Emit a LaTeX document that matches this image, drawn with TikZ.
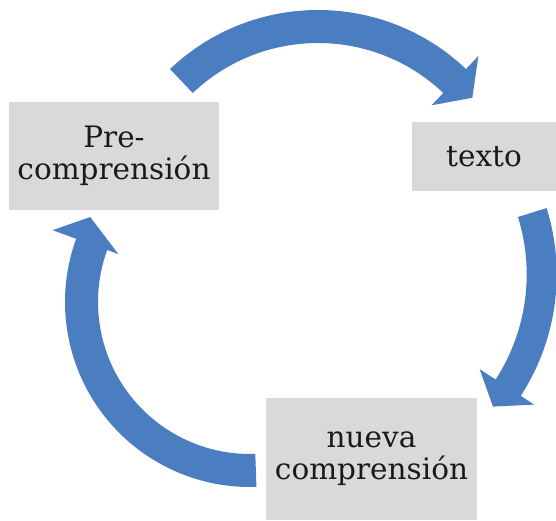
\documentclass[tikz,border=0pt]{standalone}
\usepackage{fontspec}
\setmainfont{DejaVu Serif}
\usetikzlibrary{calc}
\definecolor{arrowblue}{HTML}{4A7EC0}
\definecolor{boxgray}{HTML}{D9D9D9}
\definecolor{txtcol}{HTML}{1A1A1A}
\begin{document}
\begin{tikzpicture}[x=1pt,y=1pt,
  box/.style={fill=boxgray, inner sep=0pt, align=center, text=txtcol,
    font=\fontsize{29.5}{32}\selectfont},
  cyc/.style={fill=arrowblue}]
\useasboundingbox (0,0) rectangle (556,520);
% boxes
\node[box, minimum width=210pt, minimum height=108pt] (pre) at (114,364) {Pre-\\comprensión};
\node[box, minimum width=144pt, minimum height=69pt] (texto) at (484,363.5) {texto};
\node[box, minimum width=211pt, minimum height=122pt] (nueva) at (371.5,61) {nueva\\comprensión};
% arrow centres
\coordinate (c1) at (318,295);
\coordinate (c2) at (333.7,245.6);
\coordinate (c3) at (250,218);
% top arrow: pre -> texto
\fill[cyc] ($(c1)+(133.5:215)$) arc[start angle=133.5, end angle=46.5, radius=215]
  -- ($(c1)+(46.5:233)$) -- ($(c1)+(39.5:200)$) -- ($(c1)+(46.5:165)$)
  -- ($(c1)+(46.5:182)$) arc[start angle=46.5, end angle=133.5, radius=182] -- cycle;
% right arrow: texto -> nueva
\fill[cyc] ($(c2)+(17.3:223)$) arc[start angle=17.3, end angle=-33, radius=223]
  -- ($(c2)+(-33:239)$) -- ($(c2)+(-39.7:207)$) -- ($(c2)+(-33:174)$)
  -- ($(c2)+(-33:193)$) arc[start angle=-33, end angle=17.3, radius=193] -- cycle;
% left arrow: nueva -> pre
\fill[cyc] ($(c3)+(272:185)$) arc[start angle=272, end angle=160, radius=185]
  -- ($(c3)+(160:210)$) -- ($(c3)+(152:181)$) -- ($(c3)+(160:140)$)
  -- ($(c3)+(160:152)$) arc[start angle=160, end angle=272, radius=152] -- cycle;
\end{tikzpicture}
\end{document}
